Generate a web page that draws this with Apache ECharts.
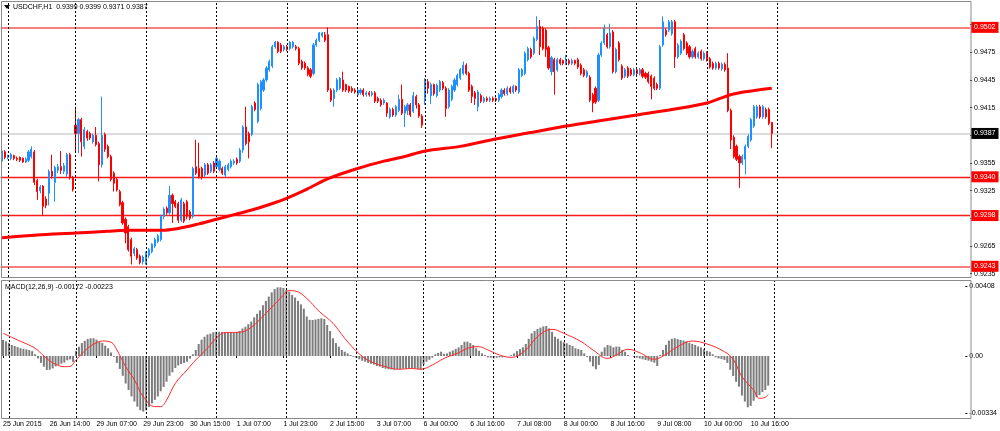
<!DOCTYPE html>
<html><head><meta charset="utf-8">
<script src="https://cdn.jsdelivr.net/npm/echarts@6/dist/echarts.min.js"></script>
<style>html,body{margin:0;padding:0;background:#fff;}#c{width:1000px;height:431px;}</style>
</head><body><div id="c"></div>
<script>
// ---- DATA ----
const symbolTitle = 'USDCHF,H1  0.9399 0.9399 0.9371 0.9387';
const macdTitle = 'MACD(12,26,9) -0.00172 -0.00223';
const dateLabels = ['25 Jun 2015','26 Jun 14:00','29 Jun 07:00','29 Jun 23:00','30 Jun 15:00','1 Jul 07:00','1 Jul 23:00','2 Jul 15:00','3 Jul 07:00','6 Jul 00:00','6 Jul 16:00','7 Jul 08:00','8 Jul 00:00','8 Jul 16:00','9 Jul 08:00','10 Jul 00:00','10 Jul 16:00'];
const labelBars = [0,16,32,48,64,80,96,112,128,144,160,176,192,208,224,240,256];
const dayStartBars = [2,25,49,73,97,121,144,168,192,216,240,264];
const priceTicks = [0.9235,0.9265,0.9295,0.9325,0.9355,0.9385,0.9415,0.9445,0.9475,0.9505];
const macdTicks = [-0.00334,0,0.00408];
const levels = [0.9502,0.9340,0.9298,0.9243];
const lastPrice = 0.9387;
// [open, high, low, close]
const ohlc = [
[0.9357,0.9371,0.9354,0.9368],[0.9367,0.9369,0.9359,0.9361],[0.9361,0.9364,0.9359,0.9362],[0.9360,0.9366,0.9358,0.9364],[0.9363,0.9364,0.9358,0.9360],
[0.9360,0.9362,0.9357,0.9359],[0.9361,0.9362,0.9356,0.9358],[0.9360,0.9361,0.9355,0.9356],[0.9356,0.9361,0.9355,0.9359],[0.9358,0.9369,0.9356,0.9367],
[0.9362,0.9373,0.9360,0.9370],[0.9367,0.9369,0.9331,0.9334],[0.9336,0.9338,0.9315,0.9324],[0.9325,0.9331,0.9322,0.9329],[0.9330,0.9331,0.9298,0.9308],
[0.9316,0.9319,0.9306,0.9309],[0.9322,0.9348,0.9309,0.9346],[0.9346,0.9364,0.9338,0.9341],[0.9334,0.9352,0.9313,0.9350],[0.9347,0.9354,0.9344,0.9351],
[0.9351,0.9368,0.9343,0.9347],[0.9346,0.9355,0.9343,0.9352],[0.9343,0.9366,0.9340,0.9364],[0.9364,0.9366,0.9337,0.9339],[0.9339,0.9341,0.9324,0.9326],
[0.9396,0.9416,0.9366,0.9387],[0.9387,0.9404,0.9366,0.9402],[0.9402,0.9404,0.9362,0.9378],[0.9373,0.9394,0.9370,0.9391],[0.9389,0.9391,0.9379,0.9382],
[0.9387,0.9389,0.9380,0.9382],[0.9378,0.9387,0.9376,0.9385],[0.9385,0.9394,0.9373,0.9375],[0.9376,0.9378,0.9335,0.9353],[0.9353,0.9427,0.9350,0.9385],
[0.9386,0.9388,0.9367,0.9370],[0.9373,0.9375,0.9360,0.9362],[0.9362,0.9364,0.9335,0.9337],[0.9344,0.9346,0.9324,0.9333],[0.9337,0.9339,0.9324,0.9326],
[0.9324,0.9326,0.9308,0.9310],[0.9312,0.9314,0.9288,0.9290],[0.9294,0.9296,0.9268,0.9279],[0.9286,0.9288,0.9259,0.9261],[0.9272,0.9274,0.9245,0.9254],
[0.9257,0.9264,0.9254,0.9262],[0.9261,0.9263,0.9250,0.9252],[0.9254,0.9256,0.9245,0.9247],[0.9248,0.9255,0.9245,0.9253],[0.9247,0.9259,0.9245,0.9257],
[0.9255,0.9263,0.9252,0.9261],[0.9259,0.9268,0.9257,0.9267],[0.9265,0.9274,0.9263,0.9272],[0.9270,0.9278,0.9268,0.9276],[0.9272,0.9299,0.9270,0.9297],
[0.9297,0.9307,0.9294,0.9305],[0.9306,0.9308,0.9299,0.9301],[0.9301,0.9330,0.9299,0.9320],[0.9320,0.9322,0.9290,0.9311],[0.9313,0.9315,0.9306,0.9308],
[0.9311,0.9313,0.9290,0.9293],[0.9293,0.9317,0.9291,0.9315],[0.9311,0.9313,0.9290,0.9292],[0.9313,0.9315,0.9294,0.9297],[0.9302,0.9304,0.9293,0.9295],
[0.9297,0.9351,0.9295,0.9349],[0.9351,0.9380,0.9342,0.9344],[0.9349,0.9377,0.9338,0.9340],[0.9349,0.9351,0.9337,0.9340],[0.9342,0.9355,0.9340,0.9353],
[0.9353,0.9355,0.9342,0.9344],[0.9346,0.9355,0.9344,0.9353],[0.9355,0.9357,0.9344,0.9346],[0.9351,0.9362,0.9349,0.9360],[0.9348,0.9359,0.9346,0.9357],
[0.9349,0.9351,0.9342,0.9344],[0.9342,0.9353,0.9340,0.9351],[0.9348,0.9355,0.9346,0.9353],[0.9351,0.9359,0.9349,0.9357],[0.9355,0.9359,0.9353,0.9357],
[0.9359,0.9361,0.9353,0.9355],[0.9357,0.9371,0.9355,0.9369],[0.9369,0.9396,0.9366,0.9394],[0.9394,0.9416,0.9374,0.9376],[0.9387,0.9389,0.9360,0.9378],
[0.9386,0.9418,0.9384,0.9416],[0.9420,0.9422,0.9411,0.9413],[0.9400,0.9442,0.9398,0.9440],[0.9414,0.9445,0.9412,0.9443],[0.9434,0.9447,0.9432,0.9445],
[0.9445,0.9460,0.9443,0.9458],[0.9456,0.9467,0.9454,0.9465],[0.9460,0.9483,0.9458,0.9481],[0.9481,0.9487,0.9479,0.9486],[0.9486,0.9487,0.9474,0.9476],
[0.9483,0.9485,0.9474,0.9476],[0.9478,0.9483,0.9476,0.9481],[0.9481,0.9483,0.9476,0.9478],[0.9479,0.9487,0.9477,0.9486],[0.9481,0.9487,0.9479,0.9486],
[0.9481,0.9483,0.9477,0.9479],[0.9479,0.9481,0.9461,0.9463],[0.9465,0.9467,0.9456,0.9458],[0.9463,0.9465,0.9456,0.9458],[0.9458,0.9460,0.9449,0.9451],
[0.9456,0.9458,0.9447,0.9449],[0.9452,0.9485,0.9450,0.9483],[0.9483,0.9490,0.9481,0.9488],[0.9488,0.9497,0.9486,0.9496],[0.9493,0.9497,0.9491,0.9496],
[0.9494,0.9497,0.9486,0.9488],[0.9494,0.9502,0.9432,0.9434],[0.9434,0.9436,0.9421,0.9423],[0.9425,0.9436,0.9416,0.9434],[0.9434,0.9447,0.9432,0.9445],
[0.9436,0.9448,0.9434,0.9447],[0.9445,0.9454,0.9432,0.9434],[0.9440,0.9441,0.9432,0.9434],[0.9438,0.9439,0.9431,0.9433],[0.9436,0.9438,0.9431,0.9433],
[0.9434,0.9436,0.9430,0.9432],[0.9429,0.9436,0.9427,0.9434],[0.9431,0.9436,0.9429,0.9434],[0.9434,0.9436,0.9427,0.9429],[0.9429,0.9433,0.9427,0.9431],
[0.9431,0.9433,0.9427,0.9429],[0.9429,0.9433,0.9427,0.9431],[0.9431,0.9433,0.9420,0.9422],[0.9425,0.9427,0.9420,0.9422],[0.9423,0.9425,0.9416,0.9418],
[0.9420,0.9425,0.9418,0.9423],[0.9420,0.9421,0.9405,0.9409],[0.9405,0.9415,0.9403,0.9413],[0.9413,0.9415,0.9405,0.9407],[0.9407,0.9418,0.9405,0.9416],
[0.9412,0.9429,0.9410,0.9424],[0.9424,0.9440,0.9407,0.9409],[0.9409,0.9418,0.9394,0.9416],[0.9412,0.9420,0.9407,0.9418],[0.9418,0.9420,0.9405,0.9407],
[0.9411,0.9432,0.9409,0.9428],[0.9427,0.9429,0.9414,0.9418],[0.9418,0.9420,0.9404,0.9406],[0.9406,0.9408,0.9393,0.9396],[0.9425,0.9447,0.9418,0.9445],
[0.9443,0.9446,0.9430,0.9436],[0.9428,0.9442,0.9419,0.9440],[0.9440,0.9441,0.9428,0.9430],[0.9428,0.9441,0.9426,0.9439],[0.9434,0.9445,0.9432,0.9443],
[0.9442,0.9444,0.9434,0.9436],[0.9436,0.9438,0.9405,0.9414],[0.9416,0.9436,0.9414,0.9434],[0.9424,0.9440,0.9422,0.9438],[0.9434,0.9447,0.9432,0.9445],
[0.9440,0.9452,0.9438,0.9450],[0.9447,0.9458,0.9445,0.9456],[0.9452,0.9465,0.9450,0.9461],[0.9461,0.9463,0.9450,0.9452],[0.9452,0.9454,0.9432,0.9434],
[0.9438,0.9440,0.9420,0.9427],[0.9431,0.9433,0.9418,0.9425],[0.9416,0.9434,0.9411,0.9432],[0.9428,0.9430,0.9420,0.9422],[0.9422,0.9427,0.9420,0.9425],
[0.9425,0.9427,0.9421,0.9423],[0.9423,0.9427,0.9421,0.9425],[0.9425,0.9427,0.9421,0.9423],[0.9425,0.9426,0.9421,0.9423],[0.9423,0.9431,0.9421,0.9429],
[0.9427,0.9436,0.9425,0.9434],[0.9434,0.9436,0.9428,0.9430],[0.9430,0.9438,0.9428,0.9436],[0.9436,0.9438,0.9430,0.9432],[0.9432,0.9440,0.9430,0.9438],
[0.9438,0.9439,0.9432,0.9434],[0.9432,0.9458,0.9430,0.9456],[0.9450,0.9458,0.9448,0.9456],[0.9452,0.9476,0.9450,0.9474],[0.9467,0.9481,0.9465,0.9479],
[0.9478,0.9480,0.9468,0.9470],[0.9474,0.9492,0.9472,0.9490],[0.9489,0.9514,0.9487,0.9503],[0.9503,0.9510,0.9472,0.9481],[0.9501,0.9503,0.9477,0.9479],
[0.9499,0.9501,0.9470,0.9478],[0.9480,0.9482,0.9456,0.9458],[0.9454,0.9471,0.9450,0.9469],[0.9467,0.9469,0.9429,0.9454],[0.9456,0.9469,0.9454,0.9467],
[0.9467,0.9469,0.9461,0.9463],[0.9466,0.9467,0.9461,0.9463],[0.9463,0.9472,0.9461,0.9466],[0.9466,0.9468,0.9461,0.9463],[0.9463,0.9468,0.9461,0.9466],
[0.9466,0.9467,0.9461,0.9463],[0.9467,0.9469,0.9457,0.9459],[0.9461,0.9463,0.9450,0.9452],[0.9456,0.9458,0.9448,0.9450],[0.9449,0.9456,0.9447,0.9454],
[0.9448,0.9450,0.9421,0.9423],[0.9429,0.9431,0.9410,0.9420],[0.9436,0.9438,0.9419,0.9421],[0.9423,0.9474,0.9421,0.9472],[0.9472,0.9487,0.9470,0.9485],
[0.9485,0.9505,0.9483,0.9501],[0.9494,0.9496,0.9479,0.9481],[0.9481,0.9506,0.9479,0.9496],[0.9497,0.9499,0.9452,0.9454],[0.9454,0.9480,0.9452,0.9478],
[0.9485,0.9487,0.9465,0.9467],[0.9460,0.9462,0.9445,0.9447],[0.9449,0.9458,0.9447,0.9456],[0.9458,0.9460,0.9447,0.9449],[0.9456,0.9458,0.9449,0.9451],
[0.9451,0.9458,0.9449,0.9456],[0.9456,0.9458,0.9450,0.9452],[0.9452,0.9458,0.9450,0.9456],[0.9456,0.9458,0.9447,0.9449],[0.9452,0.9454,0.9446,0.9448],
[0.9452,0.9454,0.9441,0.9443],[0.9449,0.9451,0.9424,0.9438],[0.9447,0.9449,0.9434,0.9436],[0.9440,0.9442,0.9434,0.9436],[0.9436,0.9483,0.9434,0.9481],
[0.9483,0.9514,0.9481,0.9508],[0.9499,0.9501,0.9492,0.9494],[0.9499,0.9510,0.9497,0.9508],[0.9495,0.9510,0.9493,0.9508],[0.9508,0.9510,0.9458,0.9470],
[0.9470,0.9485,0.9468,0.9483],[0.9474,0.9489,0.9472,0.9487],[0.9494,0.9496,0.9477,0.9479],[0.9485,0.9487,0.9472,0.9474],[0.9481,0.9483,0.9468,0.9470],
[0.9470,0.9478,0.9468,0.9476],[0.9479,0.9481,0.9468,0.9470],[0.9470,0.9476,0.9468,0.9474],[0.9476,0.9478,0.9466,0.9468],[0.9468,0.9476,0.9466,0.9474],
[0.9474,0.9476,0.9465,0.9468],[0.9468,0.9470,0.9457,0.9459],[0.9463,0.9465,0.9456,0.9458],[0.9458,0.9465,0.9456,0.9463],[0.9463,0.9465,0.9456,0.9458],
[0.9457,0.9464,0.9455,0.9462],[0.9462,0.9464,0.9454,0.9456],[0.9458,0.9474,0.9410,0.9412],[0.9412,0.9414,0.9370,0.9380],[0.9383,0.9385,0.9360,0.9362],
[0.9373,0.9375,0.9357,0.9359],[0.9362,0.9364,0.9328,0.9355],[0.9355,0.9364,0.9353,0.9362],[0.9359,0.9375,0.9343,0.9373],[0.9373,0.9386,0.9371,0.9384],
[0.9380,0.9404,0.9378,0.9402],[0.9395,0.9418,0.9393,0.9416],[0.9405,0.9418,0.9403,0.9416],[0.9416,0.9418,0.9403,0.9405],[0.9405,0.9418,0.9403,0.9416],
[0.9413,0.9415,0.9403,0.9405],[0.9413,0.9415,0.9396,0.9398],[0.9399,0.9399,0.9371,0.9387]
];
// moving average, read at sample bars
const maBars = [0,12,25,36,42,49,54,60,67,73,79,85,91,97,104,111,121,130,137,144,156,168,180,192,204,216,228,240,248,255,262];
const maValues = [0.9274,0.9277,0.9279,0.9281,0.9282,0.9282,0.9282,0.9284,0.9289,0.9294,0.9299,0.9304,0.9310,0.9317,0.9327,0.9338,0.9349,0.9357,0.9362,0.9368,0.9373,0.9381,0.9388,0.9395,0.9401,0.9407,0.9413,0.9420,0.9429,0.9433,0.9436];
// MACD main (histogram), one per bar
const macdHist = [
0.00093,0.00085,0.00075,0.00064,0.00058,0.00052,0.00045,0.00042,0.00038,0.00035,
0.00028,0.00010,-0.00014,-0.00040,-0.00062,-0.00081,-0.00080,-0.00072,-0.00060,-0.00052,
-0.00045,-0.00038,-0.00025,-0.00020,-0.00035,0.00030,0.00054,0.00075,0.00088,0.00099,
0.00103,0.00103,0.00095,0.00085,0.00076,0.00060,0.00045,0.00020,-0.00005,-0.00040,
-0.00075,-0.00115,-0.00160,-0.00198,-0.00235,-0.00265,-0.00295,-0.00315,-0.00323,-0.00316,
-0.00296,-0.00275,-0.00255,-0.00235,-0.00205,-0.00180,-0.00150,-0.00115,-0.00095,-0.00070,
-0.00055,-0.00047,-0.00040,-0.00033,-0.00015,0.00010,0.00035,0.00070,0.00095,0.00112,
0.00125,0.00130,0.00138,0.00141,0.00141,0.00140,0.00138,0.00138,0.00137,0.00138,
0.00140,0.00145,0.00160,0.00170,0.00185,0.00200,0.00225,0.00245,0.00265,0.00295,
0.00320,0.00345,0.00370,0.00389,0.00399,0.00399,0.00395,0.00385,0.00374,0.00355,
0.00340,0.00320,0.00300,0.00275,0.00230,0.00210,0.00209,0.00212,0.00215,0.00219,
0.00215,0.00180,0.00145,0.00103,0.00075,0.00054,0.00035,0.00025,0.00015,0.00006,
-0.00005,-0.00012,-0.00019,-0.00028,-0.00033,-0.00040,-0.00045,-0.00050,-0.00058,-0.00062,
-0.00070,-0.00074,-0.00077,-0.00078,-0.00078,-0.00076,-0.00075,-0.00073,-0.00074,-0.00072,
-0.00070,-0.00073,-0.00076,-0.00081,-0.00050,-0.00033,-0.00022,-0.00010,0.00010,0.00018,
0.00025,0.00012,0.00015,0.00025,0.00032,0.00041,0.00050,0.00064,0.00083,0.00083,
0.00075,0.00064,0.00045,0.00030,0.00015,0.00006,-0.00008,-0.00010,-0.00014,-0.00010,
-0.00008,-0.00008,-0.00004,0.00000,0.00005,0.00015,0.00029,0.00040,0.00050,0.00070,
0.00100,0.00132,0.00145,0.00157,0.00165,0.00172,0.00174,0.00160,0.00140,0.00112,
0.00100,0.00089,0.00080,0.00074,0.00065,0.00058,0.00045,0.00040,0.00035,0.00015,
-0.00005,-0.00033,-0.00060,-0.00077,-0.00052,0.00025,0.00050,0.00064,0.00060,0.00050,
0.00055,0.00054,0.00035,0.00025,0.00006,0.00000,-0.00004,-0.00010,-0.00014,-0.00019,
-0.00023,-0.00027,-0.00033,-0.00039,-0.00058,0.00006,0.00035,0.00065,0.00089,0.00100,
0.00103,0.00098,0.00093,0.00090,0.00085,0.00077,0.00070,0.00064,0.00055,0.00050,
0.00039,0.00030,0.00025,0.00010,-0.00008,-0.00014,-0.00018,-0.00023,-0.00040,-0.00080,
-0.00116,-0.00150,-0.00178,-0.00230,-0.00265,-0.00298,-0.00290,-0.00260,-0.00240,-0.00227,
-0.00210,-0.00198,-0.00172
];
// MACD signal line, read at sample bars
const signalBars = [0,5,11,14,17,21,23,25,29,32,34,37,39,42,45,48,52,54,56,59,63,66,70,73,76,81,85,90,95,98,100,104,108,113,117,122,126,131,135,140,143,147,151,156,160,163,166,170,174,179,183,188,192,198,202,207,210,214,218,223,226,231,236,241,247,250,253,257,259,261,262];
const signalValues = [0.00132,0.00093,0.00045,0.00000,-0.00039,-0.00062,-0.00060,-0.00023,0.00045,0.00077,0.00087,0.00080,0.00035,-0.00062,-0.00139,-0.00236,-0.00294,-0.00294,-0.00256,-0.00159,-0.00081,-0.00023,0.00045,0.00103,0.00136,0.00138,0.00167,0.00248,0.00335,0.00380,0.00378,0.00335,0.00263,0.00190,0.00103,0.00012,-0.00033,-0.00062,-0.00077,-0.00073,-0.00077,-0.00052,-0.00014,0.00019,0.00050,0.00054,0.00035,0.00006,-0.00008,0.00035,0.00112,0.00155,0.00132,0.00083,0.00035,-0.00014,0.00006,0.00039,0.00019,-0.00019,0.00000,0.00054,0.00087,0.00070,0.00025,-0.00019,-0.00120,-0.00198,-0.00246,-0.00240,-0.00223];

// ---- BUILD ----
const SLOTS = 330;
const N = ohlc.length;
const cats = Array.from({length: SLOTS}, (_, i) => String(i));
const labelMap = {};
labelBars.forEach((b, k) => { labelMap[b] = dateLabels[k]; });
const candleData = ohlc.map(r => [r[0], r[3], r[2], r[1]]);
const maData = new Array(N).fill(null);
maBars.forEach((b, k) => { maData[b] = maValues[k]; });
const sigData = new Array(N).fill(null);
signalBars.forEach((b, k) => { sigData[b] = signalValues[k]; });
const FONT = 'Liberation Sans, Arial, sans-serif';
const FS = 7;

const vLines = dayStartBars.map(b => ({xAxis: b}));
const dashStyle = {color: '#000', type: [2, 2], width: 1};
const boxLabel = (bg) => ({show: true, position: 'end', distance: 1, formatter: p => Number(p.value).toFixed(4),
  backgroundColor: bg, color: '#fff', padding: [2, 3, 1, 3], fontSize: FS, lineHeight: 8, fontFamily: FONT});
const levelLines = levels.map((v, k) => ({
  yAxis: v,
  lineStyle: (k === 0 || k === 3) ? {color: '#f58080', width: 2, type: 'solid'} : {color: '#ff1a1a', width: 1.3, type: 'solid'},
  label: boxLabel('#ff0000')
}));
levelLines.unshift({yAxis: lastPrice, lineStyle: {color: '#dcdcdc', width: 2, type: 'solid'}, label: boxLabel('#000')});

const chart = echarts.init(document.getElementById('c'), null, {renderer: 'canvas'});
chart.setOption({
  animation: false,
  backgroundColor: '#fff',
  grid: [
    {left: 0.6, top: 2, width: 969.5, height: 275},
    {left: 0.6, top: 281, width: 969.5, height: 137}
  ],
  xAxis: [
    {type: 'category', gridIndex: 0, data: cats, boundaryGap: true,
     axisLine: {show: false}, axisTick: {show: false}, axisLabel: {show: false}, splitLine: {show: false}},
    {type: 'category', gridIndex: 1, data: cats, boundaryGap: true,
     axisLine: {show: false},
     axisTick: {show: true, alignWithLabel: true, interval: (i) => labelMap[i] !== undefined, length: 2, lineStyle: {color: '#000'}},
     axisLabel: {show: true, interval: (i) => labelMap[i] !== undefined, formatter: (v, i) => labelMap[i] || '',
       align: 'left', margin: 3, fontSize: FS, color: '#000', fontFamily: FONT},
     splitLine: {show: false}}
  ],
  yAxis: [
    {type: 'value', gridIndex: 0, position: 'right', min: 0.92314, max: 0.95295,
     axisLine: {show: false}, splitLine: {show: false},
     axisTick: {show: true, customValues: priceTicks, length: 2, lineStyle: {color: '#000'}},
     axisLabel: {customValues: priceTicks, formatter: v => v.toFixed(4), fontSize: FS, margin: 4, color: '#000', fontFamily: FONT}},
    {type: 'value', gridIndex: 1, position: 'right', min: -0.003603, max: 0.004358,
     axisLine: {show: false}, splitLine: {show: false},
     axisTick: {show: true, customValues: macdTicks, length: 2, lineStyle: {color: '#000'}},
     axisLabel: {customValues: macdTicks, formatter: v => v === 0 ? '0.00' : v.toFixed(5), fontSize: FS, margin: 4, color: '#000', fontFamily: FONT}}
  ],
  series: [
    {type: 'line', xAxisIndex: 0, yAxisIndex: 0, data: [], silent: true, z: 1,
     markLine: {silent: true, symbol: ['none', 'none'], label: {show: false}, lineStyle: dashStyle, data: vLines}},
    {type: 'candlestick', xAxisIndex: 0, yAxisIndex: 0, data: candleData, barWidth: 1.6, z: 3,
     itemStyle: {color: '#1e90ff', color0: '#ff0000', borderColor: '#1e90ff', borderColor0: '#ff0000', borderWidth: 1},
     markLine: {silent: true, symbol: ['none', 'none'], precision: 4, data: levelLines, z: 2}},
    {type: 'line', xAxisIndex: 0, yAxisIndex: 0, data: maData, connectNulls: true, smooth: 0.3, showSymbol: false, z: 5,
     lineStyle: {color: '#ff0000', width: 3}},
    {type: 'line', xAxisIndex: 1, yAxisIndex: 1, data: [], silent: true, z: 1,
     markLine: {silent: true, symbol: ['none', 'none'], label: {show: false}, lineStyle: dashStyle, data: vLines}},
    {type: 'bar', xAxisIndex: 1, yAxisIndex: 1, data: macdHist, barWidth: 2, z: 3,
     itemStyle: {color: '#7c7c7c'}},
    {type: 'line', xAxisIndex: 1, yAxisIndex: 1, data: sigData, connectNulls: true, smooth: 0.4, showSymbol: false, z: 5,
     lineStyle: {color: '#ff2a2a', width: 1}}
  ],
  graphic: [
    {type: 'rect', shape: {x: 1.5, y: 1.5, width: 969.5, height: 276}, style: {fill: 'none', stroke: '#8a8a8a', lineWidth: 1}, z: 100, silent: true},
    {type: 'rect', shape: {x: 1.5, y: 280.5, width: 969.5, height: 138}, style: {fill: 'none', stroke: '#8a8a8a', lineWidth: 1}, z: 100, silent: true},
    {type: 'polygon', shape: {points: [[4, 5], [10, 5], [7, 9]]}, style: {fill: '#000'}, z: 100, silent: true},
    {type: 'text', x: 13, y: 4, style: {text: symbolTitle, fontSize: FS, fontFamily: FONT, fill: '#000', verticalAlign: 'top'}, z: 100, silent: true},
    {type: 'text', x: 5, y: 284, style: {text: macdTitle, fontSize: FS, fontFamily: FONT, fill: '#000', verticalAlign: 'top'}, z: 100, silent: true}
  ]
});
</script>
</body></html>
